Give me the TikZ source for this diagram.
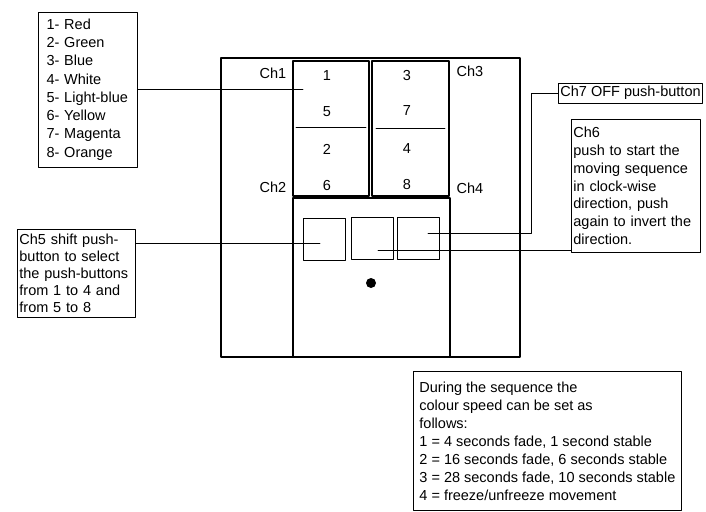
\documentclass[tikz,border=0pt]{standalone}
\usepackage{fontspec}
\setmainfont{Liberation Sans}
\usetikzlibrary{positioning}
\tikzset{
	txtbox/.style={draw, line width=0.8pt, align=left, inner xsep=2pt, inner ysep=1pt},
	btn/.style={draw, line width=0.8pt, minimum width=42pt, minimum height=42pt, inner sep=0pt},
	lead/.style={line width=0.8pt},
	frame/.style={line width=1.1pt},
}
\begin{document}
\begin{tikzpicture}[x=1pt,y=-1pt,line cap=round,line join=round,font=\fontsize{14.5}{18}\selectfont]
			\useasboundingbox (0,0) rectangle (706,511);
			\draw[frame] (221,58) rectangle (520,357);
			\draw[frame] (293,61) rectangle (369,196);
			\draw[frame] (372,61) rectangle (449,196);
			\draw[frame] (293,198) rectangle (450,357);
			\draw[lead] (296,127) -- (366,127);
			\draw[lead] (376,128) -- (445,128);
			\node[btn] (b1) at (324,239) {};
			\node[btn] (b2) at (372.5,238) {};
			\node[btn] (b3) at (418.5,238) {};
			\fill (371,283) circle (5pt);
			\node (ch1) at (273,73) {Ch1};
			\node (ch2) at (273,187) {Ch2};
			\node (ch3) at (470,71) {Ch3};
			\node (ch4) at (470,188) {Ch4};
			\node (k1) at (327,76) {1};
			\node (k5) at (327,112) {5};
			\node (k2) at (327,149) {2};
			\node (k6) at (327,186) {6};
			\node (k3) at (407,76) {3};
			\node (k7) at (407,111) {7};
			\node (k4) at (407,149) {4};
			\node (k8) at (407,185) {8};
			\node[txtbox, font=\fontsize{14.5}{18.3}\selectfont, minimum width=99pt, minimum height=155pt, text width=82pt] (legend) at (87.5,89.5) {1- Red\\2- Green\\3- Blue\\4- White\\5- Light-blue\\6- Yellow\\7- Magenta\\8- Orange};
			\node[txtbox, font=\fontsize{14.5}{17.2}\selectfont, anchor=north west, text width=114pt, minimum height=88pt] (ch5) at (17,229) {Ch5 shift push-\\button to select\\the push-buttons\\from 1 to 4 and\\from 5 to 8};
			\node[txtbox, font=\fontsize{14.5}{17.8}\selectfont, anchor=north west, text width=125pt, minimum height=133pt] (ch6) at (571,119) {Ch6\\push to start the\\moving sequence\\in clock-wise\\direction, push\\again to invert the\\direction.};
			\node[txtbox, anchor=west, minimum width=144pt, minimum height=20pt] (ch7) at (558,93) {Ch7 OFF push-button};
			\node[txtbox, anchor=north west, minimum width=268pt, minimum height=139pt] (speed) at (413,371) {During the sequence the\\colour speed can be set as\\follows:\\1 = 4 seconds fade, 1 second stable\\2 = 16 seconds fade, 6 seconds stable\\3 = 28 seconds fade, 10 seconds stable\\4 = freeze/unfreeze movement};
			\coordinate (p1) at (303,89.5);
			\coordinate (p5) at (320,243);
			\coordinate (p6) at (378,250);
			\coordinate (p7) at (428,233);
			\draw[lead] (legend.east) -- (p1);
			\draw[lead] (p5) -- (p5 -| ch5.east);
			\draw[lead] (p6) -- (p6 -| ch6.west);
			\draw[lead] (p7) -| ([xshift=-27pt]ch7.west) -- (ch7.west);
\end{tikzpicture}
\end{document}
